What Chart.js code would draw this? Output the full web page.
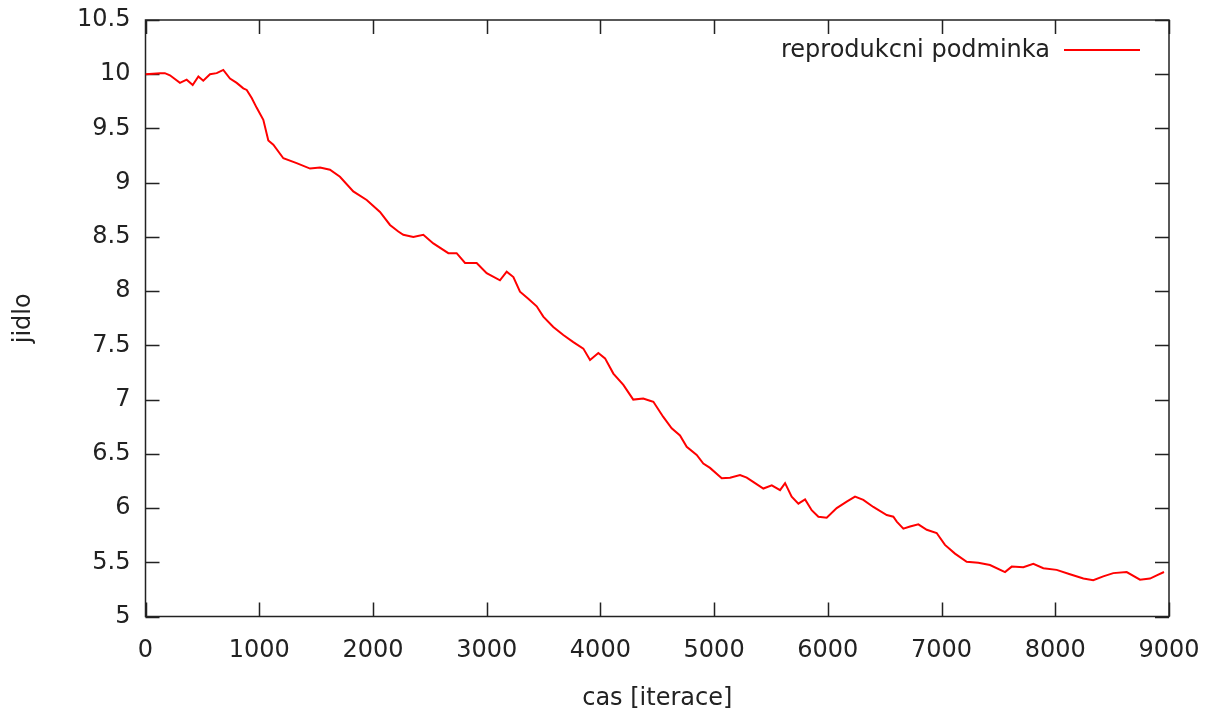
<!DOCTYPE html>
<html>
<head>
<meta charset="utf-8">
<script src="https://cdn.jsdelivr.net/npm/chart.js@4/dist/chart.umd.min.js"></script>
<style>
  html, body { margin: 0; padding: 0; background: #ffffff; }
  canvas { display: block; }
</style>
</head>
<body>
<canvas id="c" width="1214" height="714"></canvas>
<script>
// ---- data ----
const seriesLabel = "reprodukcni podminka";
const xTitle = "cas [iterace]";
const yTitle = "jidlo";
const xTickValues = [0, 1000, 2000, 3000, 4000, 5000, 6000, 7000, 8000, 9000];
const yTickValues = [5, 5.5, 6, 6.5, 7, 7.5, 8, 8.5, 9, 9.5, 10, 10.5];

const iterations = [
  0, 130, 170, 215, 303, 362, 415, 465, 508, 567, 626, 684, 743, 802, 860, 890, 934, 978,
  1036, 1080, 1124, 1212, 1329, 1447, 1535, 1622, 1710, 1827, 1945,
  2062, 2150, 2223, 2267, 2355, 2443, 2531, 2663, 2736, 2810, 2912,
  3000, 3117, 3176, 3235, 3293, 3366, 3440, 3498, 3586, 3674, 3762, 3850, 3909, 3982,
  4041, 4114, 4202, 4289, 4377, 4436, 4466, 4553, 4627, 4700, 4759, 4847, 4905, 4964,
  5067, 5140, 5228, 5287, 5360, 5433, 5507, 5580, 5624, 5682, 5741, 5800, 5858, 5917, 5990,
  6078, 6166, 6239, 6312, 6400, 6518, 6576, 6606, 6664, 6723, 6796, 6870, 6957,
  7030, 7118, 7221, 7323, 7426, 7558, 7617, 7719, 7807, 7895,
  8012, 8129, 8247, 8334, 8422, 8510, 8628, 8745, 8833, 8892, 8956
];
const food = [
  10.0, 10.01, 10.01, 9.99, 9.92, 9.95, 9.90, 9.98, 9.94, 10.0, 10.01, 10.04, 9.96, 9.92, 9.87, 9.855, 9.78, 9.69,
  9.58, 9.39, 9.35, 9.225, 9.18, 9.13, 9.14, 9.12, 9.055, 8.92, 8.84,
  8.73, 8.61, 8.55, 8.52, 8.50, 8.52, 8.44, 8.35, 8.35, 8.26, 8.26,
  8.165, 8.10, 8.18, 8.13, 7.995, 7.93, 7.86, 7.765, 7.67, 7.595, 7.53, 7.47, 7.365, 7.43,
  7.38, 7.24, 7.135, 7.0, 7.01, 6.99, 6.98, 6.84, 6.735, 6.67, 6.565, 6.49, 6.41, 6.37,
  6.275, 6.28, 6.305, 6.28, 6.23, 6.18, 6.21, 6.165, 6.23, 6.105, 6.04, 6.08, 5.98, 5.92, 5.91,
  6.0, 6.06, 6.105, 6.075, 6.01, 5.935, 5.92, 5.875, 5.81, 5.83, 5.85, 5.80, 5.77,
  5.66, 5.58, 5.505, 5.495, 5.475, 5.41, 5.46, 5.455, 5.485, 5.445,
  5.43, 5.39, 5.35, 5.335, 5.37, 5.40, 5.41, 5.34, 5.35, 5.38, 5.41
];

// ---- styling ----
const FONT = "'DejaVu Sans', sans-serif";
const TEXT = "#222222";
const AXIS = "#222222";
const TICK_LEN = 14;

const framePlugin = {
  id: 'gnuplotFrame',
  beforeDatasetsDraw(chart) {
    const { ctx, chartArea: a, scales } = chart;
    ctx.save();
    ctx.strokeStyle = AXIS;
    ctx.lineWidth = 1.5;
    ctx.beginPath();
    xTickValues.forEach(v => {
      const px = Math.round(scales.x.getPixelForValue(v)) + 0.5;
      ctx.moveTo(px, a.bottom); ctx.lineTo(px, a.bottom - TICK_LEN);
      ctx.moveTo(px, a.top); ctx.lineTo(px, a.top + TICK_LEN);
    });
    yTickValues.forEach(v => {
      const py = Math.round(scales.y.getPixelForValue(v)) + 0.5;
      ctx.moveTo(a.left, py); ctx.lineTo(a.left + TICK_LEN, py);
      ctx.moveTo(a.right, py); ctx.lineTo(a.right - TICK_LEN, py);
    });
    ctx.stroke();
    ctx.strokeRect(a.left, a.top, a.right - a.left, a.bottom - a.top);
    ctx.restore();
  },
  afterDraw(chart) {
    const { ctx, chartArea: a } = chart;
    const ds = chart.data.datasets[0];
    ctx.save();
    ctx.font = "24px " + FONT;
    ctx.fillStyle = TEXT;
    ctx.textAlign = 'right';
    ctx.textBaseline = 'middle';
    const ty = a.top + 31;
    ctx.fillText(ds.label, 1050, ty);
    ctx.strokeStyle = ds.borderColor;
    ctx.lineWidth = 2;
    ctx.beginPath();
    ctx.moveTo(1064, ty - 1);
    ctx.lineTo(1140, ty - 1);
    ctx.stroke();
    ctx.restore();
  }
};

new Chart(document.getElementById('c'), {
  type: 'line',
  data: {
    datasets: [{
      label: seriesLabel,
      data: iterations.map((x, i) => ({ x: x, y: food[i] })),
      borderColor: 'rgb(255,0,0)',
      borderWidth: 2,
      pointRadius: 0,
      tension: 0,
      fill: false
    }]
  },
  options: {
    responsive: false,
    animation: false,
    devicePixelRatio: 1,
    layout: { padding: { left: 0, right: 45, top: 20, bottom: 0 } },
    plugins: { legend: { display: false }, tooltip: { enabled: false } },
    scales: {
      x: {
        type: 'linear',
        min: 0, max: 9000,
        afterBuildTicks: s => { s.ticks = xTickValues.map(v => ({ value: v })); },
        ticks: { font: { family: FONT, size: 24 }, color: TEXT, padding: 20, maxRotation: 0,
                 callback: v => String(v) },
        grid: { display: false, drawTicks: false },
        border: { display: false },
        title: { display: true, text: xTitle, font: { family: FONT, size: 24 }, color: TEXT, padding: { top: 0, bottom: 1 } },
        afterFit: s => { s.height = 97.5; s.paddingLeft = 0; s.paddingRight = 0; }
      },
      y: {
        type: 'linear',
        min: 5, max: 10.5,
        afterBuildTicks: s => { s.ticks = yTickValues.map(v => ({ value: v })); },
        ticks: { font: { family: FONT, size: 24 }, color: TEXT, padding: 15,
                 callback: v => String(v) },
        grid: { display: false, drawTicks: false },
        border: { display: false },
        title: { display: true, text: yTitle, font: { family: FONT, size: 24 }, color: TEXT, padding: { top: 9, bottom: 0 } },
        afterFit: s => { s.width = 145.5; s.paddingTop = 0; s.paddingBottom = 0; }
      }
    }
  },
  plugins: [framePlugin]
});
</script>
</body>
</html>
